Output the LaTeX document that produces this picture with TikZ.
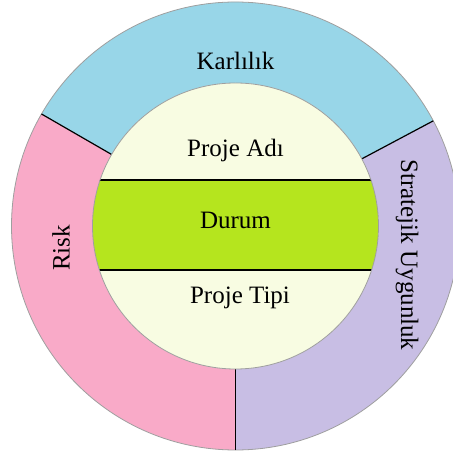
\documentclass[tikz,border=0pt]{standalone}
\usepackage{fontspec}
\setmainfont{Liberation Serif}
\definecolor{ringtop}{HTML}{98D6E8}
\definecolor{ringleft}{HTML}{F9AAC8}
\definecolor{ringright}{HTML}{C8BEE4}
\definecolor{corefill}{HTML}{F8FCE2}
\definecolor{bandfill}{HTML}{B5E51E}
\begin{document}
\begin{tikzpicture}[x=1pt,y=1pt,
  rim/.style={draw=gray!75, line width=0.8pt},
  divider/.style={draw=black, line width=1.2pt},
  lbl/.style={font=\fontsize{25}{30}\selectfont, inner sep=0pt}]
\useasboundingbox (-235.5,-228) rectangle (216.5,226);
\def\Ro{224}
\def\Ri{143}
% three ring sectors
\fill[ringtop] (28:\Ro) arc (28:150:\Ro) -- (150:\Ri) arc (150:28:\Ri) -- cycle;
\fill[ringleft] (150:\Ro) arc (150:270:\Ro) -- (270:\Ri) arc (270:150:\Ri) -- cycle;
\fill[ringright] (270:\Ro) arc (270:388:\Ro) -- (28:\Ri) arc (388:270:\Ri) -- cycle;
\draw[rim] (0,0) circle (\Ro);
% sector dividers
\coordinate (d1o) at (28:\Ro);  \coordinate (d1i) at (28:\Ri);
\coordinate (d2o) at (150:\Ro); \coordinate (d2i) at (150:\Ri);
\coordinate (d3o) at (270:\Ro); \coordinate (d3i) at (270:\Ri);
\draw[divider] (d1o) -- (d1i);
\draw[divider] (d2o) -- (d2i);
\draw[divider] (d3o) -- (d3i);
% inner disc with the status band
\fill[corefill] (0,0) circle (\Ri);
\begin{scope}
  \clip (0,0) circle (\Ri);
  \fill[bandfill] (-\Ri,-44) rectangle (\Ri,46);
  \draw[divider] (-\Ri,46) -- (\Ri,46);
  \draw[divider] (-\Ri,-44) -- (\Ri,-44);
\end{scope}
\draw[rim] (0,0) circle (\Ri);
% labels
\node[lbl] (karlilik) at (0,165) {Karlılık};
\node[lbl] (adi) at (0,76) {Proje Adı};
\node[lbl] (durum) at (0,6) {Durum};
\node[lbl] (tipi) at (4.5,-72) {Proje Tipi};
\node[lbl, rotate=90] (risk) at (-174.5,-22) {Risk};
\node[lbl, rotate=-90] (strateji) at (171.5,-29) {Stratejik Uygunluk};
\end{tikzpicture}
\end{document}
